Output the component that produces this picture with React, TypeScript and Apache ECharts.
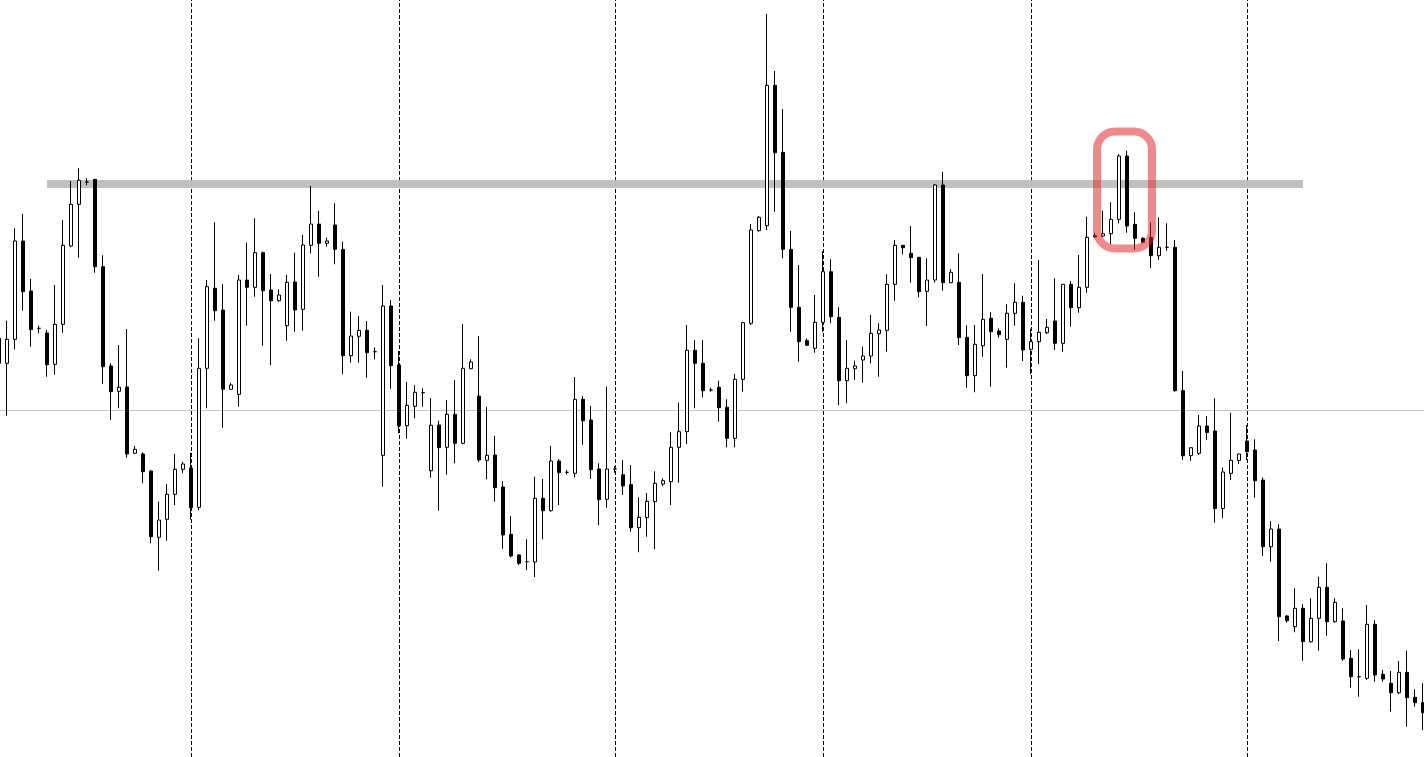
import React, { useEffect, useRef } from "react";
import * as echarts from "echarts";

// Price levels (arbitrary points scale). One entry per bar, oldest first.
const opens = [
  418.7, 393.7, 417.7, 516, 466, 428.7, 424, 392.7, 432.7, 511,
  552.7, 575, 577.7, 490.3, 391, 365.7, 370, 303.7, 303, 286,
  219.7, 237.7, 262.7, 287.7, 289, 249.7, 388.7, 468.7, 447, 367.7,
  362.7, 477, 469.7, 504.3, 467, 456.3, 431.3, 475, 447.7, 511.7,
  533, 513.7, 532, 507.7, 401.3, 420.7, 426.7, 405.3, 301.7, 451,
  392, 331.3, 350.7, 364.3, 286.3, 332, 309.7, 342.7, 313.7, 388.3,
  361, 296.7, 302, 270, 222.7, 202, 195.3, 195, 258.7, 246.3,
  296, 284.7, 283.7, 357.7, 337, 288, 257.7, 288, 282.3, 272.3,
  229.3, 239.3, 255.3, 273, 275.3, 309.7, 325.3, 406.7, 393.7, 367,
  369.7, 349.7, 318.7, 377.7, 433.7, 526.3, 531.3, 671.7, 604.7, 507.7,
  449.7, 416.3, 408.7, 434.7, 485.3, 439.7, 376.3, 388.3, 397, 401,
  423.3, 426.7, 472.7, 511.7, 503.7, 499.7, 465.7, 477, 572, 474.3,
  474.7, 419.7, 381.3, 411.3, 438.7, 426, 417.7, 443.7, 454.7, 407.7,
  415.3, 424.3, 436, 413.7, 472.7, 449.3, 469.7, 521.3, 521, 523.3,
  537.7, 601, 532.7, 518.7, 519.7, 501.3, 509.7, 509.7, 366.3, 301.3,
  303.7, 331, 326, 248.5, 283.7, 296.5, 316, 307, 277, 210.3,
  228, 141, 130.3, 148.7, 115.3, 138.7, 169.7, 135.3, 136, 98.7,
  80.3, 78.7, 132.7, 82.7, 73.7, 64.3, 84.7, 59.7, 54.3,
];
const closes = [
  393.7, 417.7, 516, 465.3, 427.3, 428.7, 392.3, 432.7, 511.7, 552.7,
  576.7, 575, 490.3, 390.3, 365.3, 369.7, 303, 307.7, 285.3, 220.3,
  237, 262.7, 287.7, 293, 249.3, 388.7, 470.3, 446.3, 367.7, 372,
  477, 469.7, 504.3, 466.3, 456.3, 462, 474.7, 447, 512, 533,
  513.7, 516, 507.7, 401.3, 421, 426.7, 404.3, 405.3, 451, 391.3,
  331.3, 351.7, 364.7, 364.3, 331.7, 309.3, 342.7, 313.7, 388.7, 395,
  297, 301.7, 269.3, 222, 201, 193.7, 195.3, 258.7, 246.3, 296,
  284.3, 284.7, 357.7, 336.3, 287.3, 257.3, 288, 288, 271, 229.3,
  239.7, 255.7, 273.7, 276.3, 309.7, 325.3, 406.7, 393.7, 366.3, 367,
  349.3, 318.7, 377.7, 434.3, 527, 539.7, 671.7, 604.3, 507.7, 449.7,
  415.3, 411.7, 434.7, 485.3, 440.3, 376.3, 388.7, 391, 401, 423.7,
  427, 472.7, 511.7, 509.3, 499.3, 465.3, 477, 572, 474.3, 484.7,
  419.3, 381.3, 412.7, 437.7, 425.3, 422.3, 443.7, 454.7, 407, 415.3,
  424.7, 429.7, 413.7, 472.7, 449.3, 469.7, 519.7, 520, 523.3, 537.7,
  601, 531, 518.7, 514.7, 501.3, 509.7, 509.7, 366.3, 301.3, 309.3,
  331, 324.5, 248.5, 285, 296.7, 303, 305.3, 276.3, 210.3, 228,
  140.3, 136.3, 148.7, 115.3, 138.7, 169.7, 135.3, 154.7, 98, 80.3,
  80.3, 132.7, 82, 78, 64.3, 84.7, 59.3, 54.3, 44.3,
];
const lows = [
  389, 341.5, 407.7, 446.3, 410.3, 423.7, 380.3, 382.3, 424.3, 509.7,
  499.3, 571.7, 484.3, 373, 337, 348.7, 299.3, 303.7, 273.7, 213.7,
  186.3, 216.3, 252, 283.7, 237.7, 247, 348.7, 436.3, 329.3, 367.7,
  350.3, 431.3, 460.3, 411.3, 392, 455.3, 416.3, 425.3, 426.3, 503.7,
  480.3, 510.3, 492.7, 382.7, 394.3, 394.3, 379.3, 397.7, 270.3, 368.3,
  323.7, 318.3, 338.7, 350.3, 279.3, 246.3, 282.3, 293.7, 312.7, 387.7,
  294.7, 277.7, 255.3, 208.3, 199.7, 192, 187, 180, 217.7, 245.3,
  252, 282.7, 279.7, 312.3, 278, 232, 249.3, 284.3, 262, 225.3,
  204.7, 220.3, 208, 271, 252, 274.3, 313, 348.7, 359.7, 365.3,
  335.3, 309.7, 309.7, 365.3, 432, 525.3, 527, 545.3, 498.7, 425.3,
  395.3, 411.7, 404.3, 424.7, 433.7, 352, 353.7, 377, 374.3, 393.7,
  380.3, 405.3, 456.3, 502.7, 474.3, 459.7, 431, 474.3, 466.3, 473.7,
  412, 369.3, 364.7, 400.3, 370.3, 419.3, 389.3, 431.3, 396, 382.7,
  392.7, 423, 407, 405.3, 430.3, 444.3, 464.3, 519.7, 519.7, 513,
  533.7, 524.3, 507, 513.7, 488.7, 497, 506.3, 365.3, 297, 296.3,
  302, 317, 234.5, 238.7, 277, 293, 297, 259.3, 201, 195.3,
  116, 134.3, 124.7, 96.3, 114.3, 106.3, 121.3, 134.3, 96, 69.3,
  60.3, 77, 75.3, 75.3, 45.3, 63, 30.3, 50.3, 27,
];
const highs = [
  425, 436.3, 528.7, 543, 478, 431.3, 427, 472, 537, 576,
  588.7, 578.7, 577.7, 501.7, 393.7, 412, 428, 311, 304.7, 287,
  255.3, 273, 303, 295.3, 304.3, 418.7, 477, 534.7, 473, 374.3,
  482, 514.3, 538.7, 505.3, 483, 467.7, 482, 504.3, 522, 571,
  546, 519.3, 553.7, 515.3, 445.3, 441, 436, 409.7, 472, 457,
  406, 375, 371.7, 368.7, 359, 336.3, 357, 377, 433, 397.7,
  421, 350.3, 321.3, 276, 241, 203, 217.7, 280.3, 278, 311,
  298, 287, 380, 361, 351, 293.7, 370.3, 291, 297, 292,
  259.7, 264, 285.7, 278.7, 324.7, 354.3, 432, 417, 417, 369.3,
  376.3, 357.7, 383, 435.3, 533, 541, 743, 686, 648, 526,
  492, 418.7, 462, 506, 497.7, 449.7, 417, 396.3, 410.3, 442,
  433.7, 482.7, 517, 511.7, 531, 499.7, 498.7, 573, 585.3, 488,
  503.7, 431.7, 432, 483, 444.7, 428.7, 452.7, 473.7, 461.3, 428.3,
  497, 438, 478.7, 472.7, 476, 502, 540.3, 524.3, 546.3, 554.7,
  603, 606.3, 544.7, 519.7, 534.7, 539.7, 533.7, 517, 386, 309.3,
  342, 341, 358.7, 289.7, 344.3, 303, 332, 317.7, 279.7, 236,
  232.7, 142, 168.7, 153, 158.7, 180.3, 193.7, 158.7, 148.7, 107,
  107.7, 152, 137, 87, 86, 96, 106.3, 67.7, 73.7,
];

// Bar labels (sequence numbers)
const bars = opens.map((_, i) => `B${i + 1}`);

// Period separators (bar indices)
const separatorBars = [24, 50, 77, 103, 129, 156];

// Resistance level drawn as a thick grey band, from bar to bar
const resistanceLevel = 573.5;
const resistanceFrom = 6;
const resistanceTo = 163;

// Reference price line
const priceLine = 347;

// Highlighted pair of bars (rounded frame)
const highlightFrom = 140;
const highlightTo = 141;
const highlightTop = 625.5;
const highlightBottom = 508.5;

export default function App() {
  const ref = useRef<HTMLDivElement>(null);

  useEffect(() => {
    document.body.style.margin = "0";
    document.body.style.overflow = "hidden";
    const chart = echarts.init(ref.current!, null, { renderer: "svg" });
    const ohlc = opens.map((o, i) => [o, closes[i], lows[i], highs[i]]);

    chart.setOption({
      animation: false,
      backgroundColor: "#ffffff",
      grid: { left: 0, right: 0, top: 0, bottom: 0 },
      xAxis: {
        type: "category",
        data: bars,
        show: false,
        boundaryGap: true,
      },
      yAxis: {
        type: "value",
        min: 0,
        max: 757,
        show: false,
        splitLine: { show: false },
      },
      series: [
        {
          type: "line",
          data: [],
          z: 1,
          silent: true,
          markLine: {
            z: 1,
            silent: true,
            symbol: ["none", "none"],
            label: { show: false },
            emphasis: { disabled: true },
            animation: false,
            data: [
              {
                yAxis: priceLine,
                lineStyle: { color: "#c4c4c4", width: 1, type: "solid" },
              },
              ...separatorBars.map((b) => ({
                xAxis: bars[b],
                lineStyle: { color: "#000000", width: 1, type: [4, 2] },
              })),
              [
                {
                  coord: [bars[resistanceFrom], resistanceLevel],
                  lineStyle: { color: "#c0c0c0", width: 8, type: "solid" },
                },
                { coord: [bars[resistanceTo], resistanceLevel] },
              ],
            ],
          },
        },
        {
          type: "candlestick",
          z: 3,
          data: ohlc,
          barWidth: 4,
          silent: true,
          itemStyle: {
            color: "#ffffff",
            color0: "#000000",
            borderColor: "#000000",
            borderColor0: "#000000",
            borderColorDoji: "#000000",
            borderWidth: 1,
          },
        },
      ],
    });

    const a = chart.convertToPixel({ gridIndex: 0 }, [bars[highlightFrom], highlightTop]) as number[];
    const b = chart.convertToPixel({ gridIndex: 0 }, [bars[highlightTo], highlightBottom]) as number[];
    const left = a[0] - 22;
    const right = b[0] + 25;
    chart.setOption({
      graphic: [
        {
          type: "rect",
          z: 100,
          silent: true,
          shape: { x: left, y: a[1], width: right - left, height: b[1] - a[1], r: 18 },
          style: { fill: "none", stroke: "rgba(228,40,40,0.55)", lineWidth: 8 },
        },
      ],
    });

    return () => chart.dispose();
  }, []);

  // The plot is 179 bars of 8px; the first bar sits partly off the left edge.
  return (
    <div
      ref={ref}
      style={{ position: "fixed", left: -5, top: 0, width: 1432, height: 757, background: "#fff" }}
    />
  );
}
